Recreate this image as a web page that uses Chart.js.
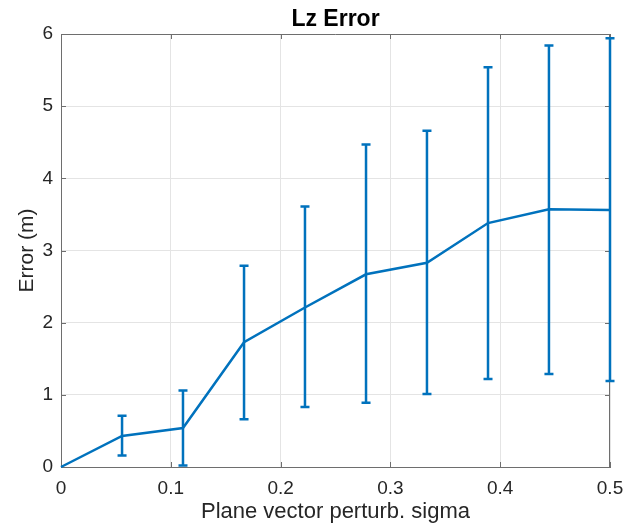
<!DOCTYPE html>
<html>
<head>
<meta charset="utf-8">
<title>Lz Error</title>
<script src="https://cdn.jsdelivr.net/npm/chart.js@4.4.0/dist/chart.umd.min.js"></script>
<style>
    html, body { margin: 0; padding: 0; background: #fff; }
    canvas { display: block; }
</style>
</head>
<body>
<canvas id="lzErrorChart" width="635" height="526"></canvas>
<script>
        // values
        const sigmas   = [0, 0.0556, 0.1111, 0.1667, 0.2222, 0.2778, 0.3333, 0.3889, 0.4444, 0.5];
        const meanErr  = [0, 0.43, 0.54, 1.73, 2.21, 2.67, 2.83, 3.38, 3.57, 3.56];
        const lowerErr = [0, 0.16, 0.02, 0.66, 0.83, 0.89, 1.01, 1.22, 1.29, 1.19];
        const upperErr = [0, 0.71, 1.06, 2.79, 3.61, 4.47, 4.66, 5.54, 5.84, 5.94];
        const xTicks   = [0, 0.1, 0.2, 0.3, 0.4, 0.5];
        const yTicks   = [0, 1, 2, 3, 4, 5, 6];

        const lineBlue = '#0072BD';
        const axisGray = '#6e6e6e';
        const textDark = '#262626';
        const fontFam  = "'Liberation Sans', Arial, Helvetica, sans-serif";

        // vertical error bars with small caps
        const errorBars = {
            id: 'errorBars',
            afterDatasetsDraw(chart) {
                const { ctx, scales: { x, y } } = chart;
                ctx.save();
                ctx.strokeStyle = lineBlue;
                ctx.lineWidth = 2.5;
                sigmas.forEach((s, i) => {
                    if (upperErr[i] === lowerErr[i]) return;
                    const px = x.getPixelForValue(s);
                    const top = y.getPixelForValue(upperErr[i]);
                    const bot = y.getPixelForValue(lowerErr[i]);
                    ctx.beginPath();
                    ctx.moveTo(px, top);
                    ctx.lineTo(px, bot);
                    ctx.moveTo(px - 4.5, top);
                    ctx.lineTo(px + 4.5, top);
                    ctx.moveTo(px - 4.5, bot);
                    ctx.lineTo(px + 4.5, bot);
                    ctx.stroke();
                });
                ctx.restore();
            }
        };

        // matlab style box with inward ticks
        const axesBox = {
            id: 'axesBox',
            beforeDatasetsDraw(chart) {
                const { ctx, chartArea: a, scales: { x, y } } = chart;
                ctx.save();
                ctx.strokeStyle = axisGray;
                ctx.lineWidth = 1;
                ctx.beginPath();
                ctx.moveTo(a.left, a.top + 0.5);
                ctx.lineTo(a.right, a.top + 0.5);
                ctx.moveTo(a.right - 0.5, a.top);
                ctx.lineTo(a.right - 0.5, a.bottom);
                xTicks.forEach(v => {
                    const px = Math.round(x.getPixelForValue(v)) + 0.5;
                    ctx.moveTo(px, a.bottom);
                    ctx.lineTo(px, a.bottom - 5);
                    ctx.moveTo(px, a.top);
                    ctx.lineTo(px, a.top + 5);
                });
                yTicks.forEach(v => {
                    const py = Math.round(y.getPixelForValue(v)) + 0.5;
                    ctx.moveTo(a.left, py);
                    ctx.lineTo(a.left + 5, py);
                    ctx.moveTo(a.right, py);
                    ctx.lineTo(a.right - 5, py);
                });
                ctx.stroke();
                ctx.restore();
            }
        };

        const ctx = document.getElementById('lzErrorChart').getContext('2d');
        new Chart(ctx, {
            type: 'line',
            data: {
                datasets: [{
                    data: sigmas.map((s, i) => ({ x: s, y: meanErr[i] })),
                    borderColor: lineBlue,
                    borderWidth: 2.5,
                    pointRadius: 0,
                    tension: 0,
                    clip: false
                }]
            },
            options: {
                responsive: false,
                animation: false,
                layout: { padding: { top: 0, right: 25, bottom: 0, left: 0 } },
                plugins: {
                    legend: { display: false },
                    tooltip: { enabled: false },
                    title: {
                        display: true,
                        fullSize: false,
                        text: 'Lz Error',
                        color: '#000',
                        font: { family: fontFam, size: 23, weight: 'bold', lineHeight: 1 },
                        padding: { top: 8, bottom: 3 }
                    }
                },
                scales: {
                    x: {
                        type: 'linear',
                        min: 0,
                        max: 0.5,
                        afterBuildTicks: scale => { scale.ticks = xTicks.map(v => ({ value: v })); },
                        afterFit: scale => { scale.height = 59; },
                        ticks: {
                            color: textDark,
                            padding: 10,
                            maxRotation: 0,
                            font: { family: fontFam, size: 19 },
                            callback: v => String(v)
                        },
                        grid: { color: '#e4e4e4', drawTicks: false },
                        border: { color: axisGray, width: 1 },
                        title: {
                            display: true,
                            text: 'Plane vector perturb. sigma',
                            color: textDark,
                            font: { family: fontFam, size: 22 },
                            padding: { top: 0, bottom: 1 }
                        }
                    },
                    y: {
                        type: 'linear',
                        min: 0,
                        max: 6,
                        afterBuildTicks: scale => { scale.ticks = yTicks.map(v => ({ value: v })); },
                        afterFit: scale => { scale.width = 61; },
                        ticks: {
                            color: textDark,
                            padding: 8,
                            font: { family: fontFam, size: 19 },
                            callback: v => String(v)
                        },
                        grid: { color: '#e4e4e4', drawTicks: false },
                        border: { color: axisGray, width: 1 },
                        title: {
                            display: true,
                            text: 'Error (m)',
                            color: textDark,
                            font: { family: fontFam, size: 21 },
                            padding: { top: 15, bottom: 0 }
                        }
                    }
                }
            },
            plugins: [axesBox, errorBars]
        });
</script>
</body>
</html>
